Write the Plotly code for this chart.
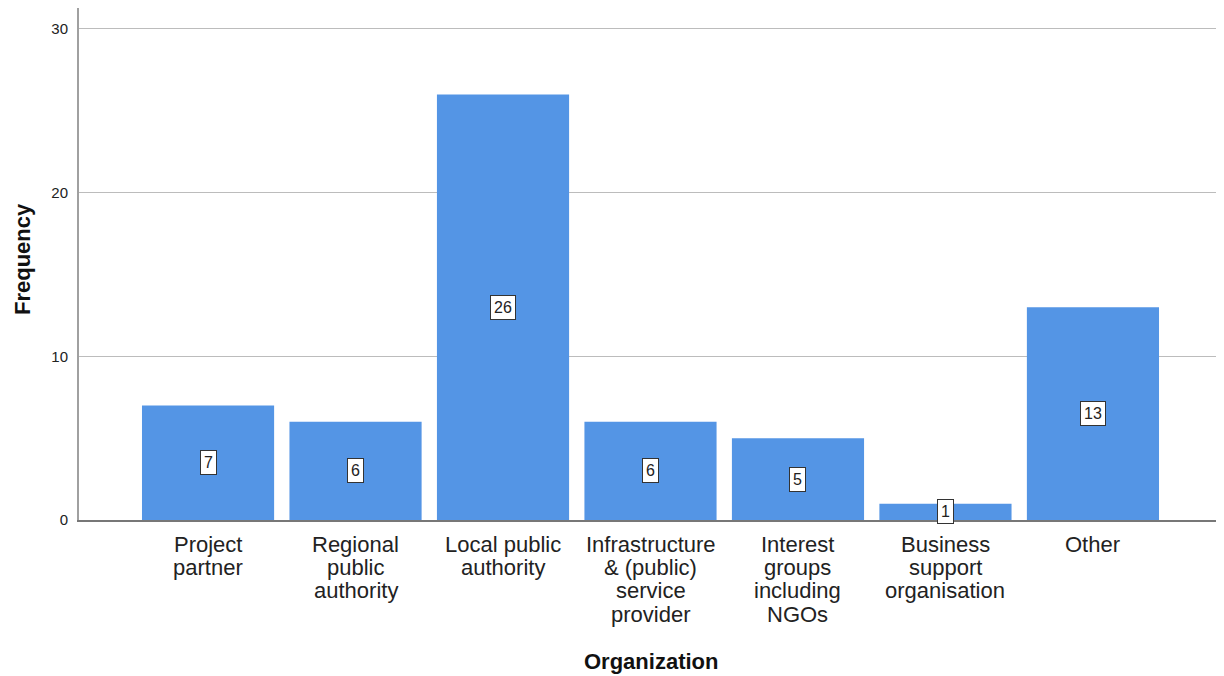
import plotly.graph_objects as go

categories = ["Project\npartner", "Regional\npublic\nauthority", "Local public\nauthority",
              "Infrastructure\n& (public)\nservice\nprovider", "Interest\ngroups\nincluding\nNGOs",
              "Business\nsupport\norganisation", "Other"]
frequency = [7, 6, 26, 6, 5, 1, 13]
y_ticks = [0, 10, 20, 30]

FONT = "Liberation Sans, Arial, sans-serif"
x_idx = list(range(len(categories)))

fig = go.Figure()
fig.add_trace(go.Bar(
    x=x_idx, y=frequency, width=0.896,
    marker=dict(color="#5495E5", line=dict(width=0)),
    hoverinfo="skip",
))

annotations = []
# value labels in boxes at half height
for i, v in zip(x_idx, frequency):
    annotations.append(dict(
        x=i, y=v / 2, xref="x", yref="y", text=str(v), showarrow=False,
        font=dict(family=FONT, size=16, color="#222222"),
        bgcolor="white", bordercolor="#333333", borderwidth=1, borderpad=3,
        xanchor="center", yanchor="middle",
    ))
# category labels, line by line
for i, lab in zip(x_idx, categories):
    for k, line in enumerate(lab.split("\n")):
        annotations.append(dict(
            x=i, y=0, xref="x", yref="paper", text=line, showarrow=False,
            font=dict(family=FONT, size=22, color="#222222"),
            xanchor="center", yanchor="middle", yshift=-(24 + 23.4 * k),
        ))
# axis titles
annotations.append(dict(
    x=0, y=0.5, xref="paper", yref="paper", text="<b>Frequency</b>", showarrow=False,
    textangle=-90, font=dict(family=FONT, size=22, color="#111111"),
    xanchor="center", yanchor="middle", xshift=-57, yshift=5,
))
annotations.append(dict(
    x=0.5, y=0, xref="paper", yref="paper", text="<b>Organization</b>", showarrow=False,
    font=dict(family=FONT, size=22, color="#111111"),
    xanchor="center", yanchor="middle", yshift=-141,
))

fig.update_layout(
    width=1216, height=668,
    margin=dict(l=71, r=2, t=0, b=156),
    plot_bgcolor="white", paper_bgcolor="white",
    showlegend=False,
    annotations=annotations,
    xaxis=dict(range=[-0.875, 6.875], showticklabels=False, showgrid=False, zeroline=False,
               showline=True, linecolor="#777777", linewidth=2, ticks=""),
    yaxis=dict(range=[0, 31.28], tickvals=y_ticks, ticktext=[str(t) for t in y_ticks],
               showgrid=True, gridcolor="#bcbcbc", gridwidth=1, zeroline=False,
               showline=True, linecolor="#a0a0a0", linewidth=2, ticks="",
               tickfont=dict(family=FONT, size=15, color="#222222"), ticklabelstandoff=6),
)

fig.write_html("out.html")
